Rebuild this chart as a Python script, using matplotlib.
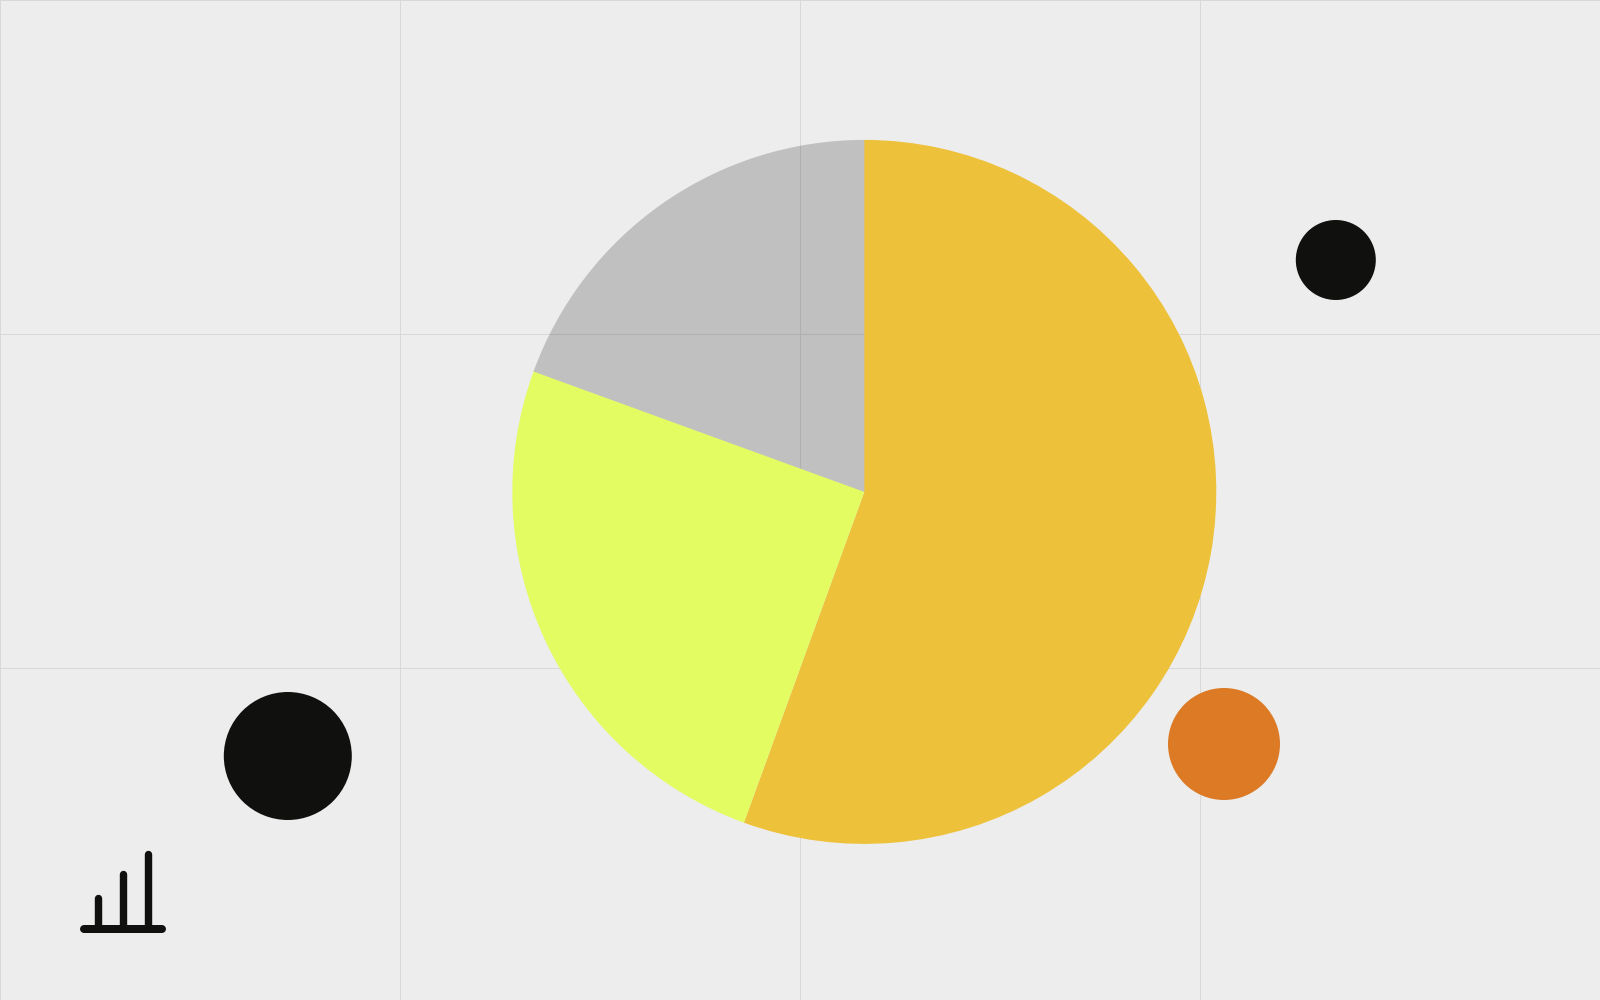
import matplotlib
matplotlib.use("Agg")
import matplotlib.pyplot as plt

# Pie data
slice_values = [200, 90, 70]
slice_colors = ["#EDC13A", "#E2FC62", (0, 0, 0, 0.19)]

# Decorative circles: centre x, centre y (from the top), radius in px
circle_x = [1335.8, 287.8, 1224]
circle_y = [260, 756, 744]
circle_r = [40, 64, 56]
circle_colors = ["#10100E", "#10100E", "#DC7A26"]

# Icon bars
icon_x = [98, 123, 147.5]
icon_top = [898, 873.5, 854]

BG = "#EDEDED"
GRID = "#D8D8D8"
W, H = 1600, 1000

fig = plt.figure(figsize=(16, 10), dpi=100, facecolor=BG)
ax = fig.add_axes([0, 0, 1, 1])
ax.set_facecolor(BG)


def Y(y):
    return H - y


for x in [0, 400, 800, 1200]:
    ax.plot([x, x], [0, H], color=GRID, lw=0.72, zorder=1, solid_capstyle="butt")
for y in [0, 334, 668.3]:
    ax.plot([0, W], [Y(y), Y(y)], color=GRID, lw=0.72, zorder=1, solid_capstyle="butt")

wedges, _ = ax.pie(
    slice_values,
    colors=slice_colors,
    startangle=90,
    counterclock=False,
    center=(864.3, Y(491.9)),
    radius=352,
    frame=True,
    wedgeprops={"linewidth": 0, "zorder": 2},
)

for x, y, r, c in zip(circle_x, circle_y, circle_r, circle_colors):
    ax.add_patch(plt.Circle((x, Y(y)), r, color=c, lw=0, zorder=3))

LW = 7.4 * 0.72
for x, top in zip(icon_x, icon_top):
    ax.plot([x, x], [Y(top), Y(928)], color="#10100E", lw=LW,
            solid_capstyle="round", zorder=4)
ax.plot([84, 162], [Y(928.7), Y(928.7)], color="#10100E", lw=8 * 0.72,
        solid_capstyle="round", zorder=4)

ax.set_xlim(0, W)
ax.set_ylim(0, H)
ax.set_aspect("auto")
ax.axis("off")
fig.savefig("out.png", dpi=100, facecolor=BG)
